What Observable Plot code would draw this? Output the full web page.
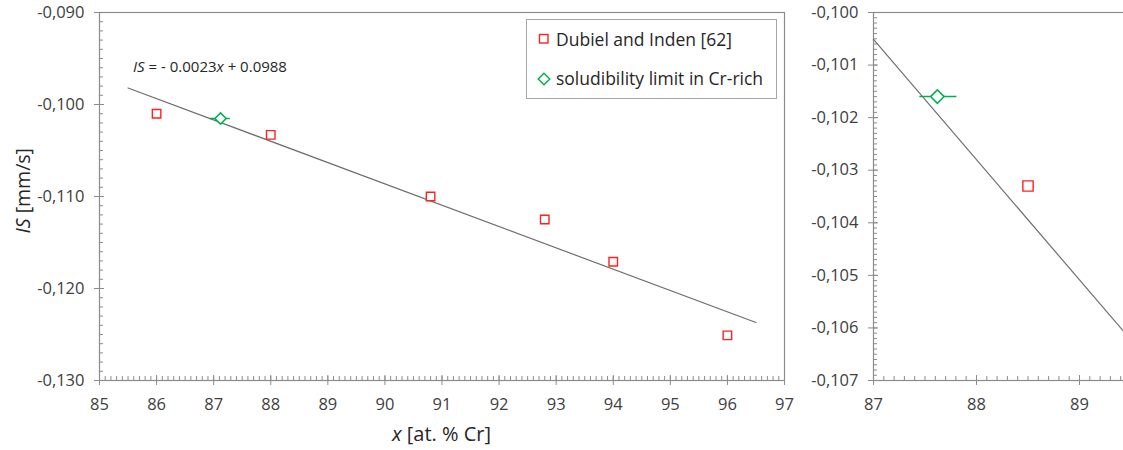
<!DOCTYPE html>
<html><head><meta charset="utf-8">
<script src="https://cdn.jsdelivr.net/npm/d3@7"></script>
<script src="https://cdn.jsdelivr.net/npm/@observablehq/plot@0.6"></script>
<style>
body{margin:0;background:#fff;font-family:"Open Sans",sans-serif;color:#262626;}
#wrap{position:relative;width:1123px;height:450px;overflow:hidden;background:#fff;}
#main{position:absolute;left:0;top:0;width:800px;}
#zoomPanel{position:absolute;left:800px;top:0;width:382px;height:450px;}
#main svg,#zoomPanel svg{max-width:none;}
.abs{position:absolute;white-space:nowrap;line-height:1;}
#legend{position:absolute;left:526px;top:19px;width:249px;height:78px;border:1px solid #a6a6a6;background:#fff;}
</style></head><body>
<div id="wrap">
  <div id="main"></div>
  <div id="zoomPanel"></div>
  <div class="abs" id="eq" style="left:133px;top:59px;font-size:15px;"></div>
  <div id="legend"></div>
  <div class="abs" id="xtitle" style="left:0;width:883px;text-align:center;top:424px;font-size:20px;"></div>
  <div class="abs" id="ytitle" style="left:-27px;top:181px;width:100px;text-align:center;font-size:19.5px;transform:rotate(-90deg);"></div>
</div>
<script>
// ---------- data: main panel ----------
const dubielX  = [86, 88, 90.8, 92.8, 94, 96];
const dubielIS = [-0.1010, -0.1033, -0.1100, -0.1125, -0.1171, -0.1251];
const limitX = [87.12];
const limitIS = [-0.10152];
const limitXLow = [86.94];
const limitXHigh = [87.29];
const fitX  = [85.5, 96.5];
const fitIS = [-0.0982, -0.1237];
const mainXTicks = [85, 86, 87, 88, 89, 90, 91, 92, 93, 94, 95, 96, 97];
const mainYTicks = [-0.130, -0.120, -0.110, -0.100, -0.090];
// ---------- data: zoom panel ----------
const zoomDubielX  = [88.5];
const zoomDubielIS = [-0.1033];
const zoomLimitX = [87.62];
const zoomLimitIS = [-0.1016];
const zoomLimitXLow = [87.45];
const zoomLimitXHigh = [87.81];
const zoomFitX  = [87, 89.43];
const zoomFitIS = [-0.10051, -0.10607];
const zoomXTicks = [87, 88, 89];
const zoomYTicks = [-0.107, -0.106, -0.105, -0.104, -0.103, -0.102, -0.101, -0.100];
// ---------- texts ----------
const legendLabels = ["Dubiel and Inden [62]", "soludibility limit in Cr-rich"];
const xTitle = ["x", " [at. % Cr]"];
const yTitle = ["IS", " [mm/s]"];
const equation = ["IS", " = - 0.0023", "x", " + 0.0988"];

const RED = "#ff2020", GREEN = "#00b050", AXIS = "#8c8c8c", LINE = "#6e6e6e", LABEL = "#404040";
const loc = d3.formatLocale({decimal: ",", thousands: ".", grouping: [3], currency: ["", ""], minus: "-"});
const fmtY = loc.format(".3f");

const zip = (xs, ys) => xs.map((x, i) => ({x, y: ys[i]}));
const minor = (a, b, step) => d3.range(Math.round((b - a) / step) + 1).map(i => a + i * step);

function panel({width, marginLeft, marginRight, xDomain, yDomain, xTicks, yTicks, xStep, yStep, sq, sqR, lim, limLo, limHi, fit}) {
  const [x0] = xDomain, [y0] = yDomain;
  const xMinor = minor(xDomain[0], xDomain[1], xStep);
  const yMinor = minor(yDomain[0], yDomain[1], yStep);
  const xMajorTicks = d3.range(Math.ceil(xDomain[0]), Math.floor(xDomain[1]) + 1);
  return Plot.plot({
    width, height: 450,
    marginLeft, marginRight, marginTop: 12, marginBottom: 70,
    x: {domain: xDomain},
    y: {domain: yDomain},
    style: {fontFamily: "Open Sans", fontSize: "16.5px", color: LABEL, background: "transparent", overflow: "visible", maxWidth: "none"},
    marks: [
      Plot.frame({stroke: AXIS, strokeWidth: 1.2}),
      Plot.ruleX(xMinor, {x: d => d, y1: () => y0, y2: () => y0, insetTop: -4, insetBottom: 0, stroke: AXIS}),
      Plot.ruleX(xMajorTicks, {x: d => d, y1: () => y0, y2: () => y0, insetTop: -5, insetBottom: -5, stroke: AXIS}),
      Plot.ruleY(yMinor, {y: d => d, x1: () => x0, x2: () => x0, insetLeft: 0, insetRight: -4, stroke: AXIS}),
      Plot.ruleY(yTicks, {y: d => d, x1: () => x0, x2: () => x0, insetLeft: -5, insetRight: -5, stroke: AXIS}),
      Plot.axisX({ticks: xTicks, tickSize: 0, tickPadding: 18, tickFormat: d => String(d), label: null}),
      Plot.axisY({ticks: yTicks, tickSize: 0, tickPadding: 15, tickFormat: fmtY, label: null}),
      Plot.line(fit, {x: "x", y: "y", stroke: LINE, strokeWidth: 1.2}),
      Plot.ruleY(lim, {y: "y", x1: (d, i) => limLo[i], x2: (d, i) => limHi[i], stroke: GREEN, strokeWidth: 1.5}),
      Plot.dot(lim, {x: "x", y: "y", symbol: "diamond2", r: sqR * 1.05, stroke: GREEN, strokeWidth: 1.5, fill: "white"}),
      Plot.dot(sq, {x: "x", y: "y", symbol: "square", r: sqR, stroke: RED, strokeWidth: 1.4, fill: "white"})
    ]
  });
}

document.getElementById("main").append(panel({
  width: 800, marginLeft: 99, marginRight: 16, xDomain: [85, 97], yDomain: [-0.130, -0.090],
  xTicks: mainXTicks, yTicks: mainYTicks, xStep: 0.1, yStep: 0.001,
  sq: zip(dubielX, dubielIS), sqR: 4.8, lim: zip(limitX, limitIS), limLo: limitXLow, limHi: limitXHigh,
  fit: zip(fitX, fitIS)
}));
document.getElementById("zoomPanel").append(panel({
  width: 382, marginLeft: 73, marginRight: 0, xDomain: [87, 90], yDomain: [-0.107, -0.100],
  xTicks: zoomXTicks, yTicks: zoomYTicks, xStep: 0.1, yStep: 0.0001,
  sq: zip(zoomDubielX, zoomDubielIS), sqR: 5.8, lim: zip(zoomLimitX, zoomLimitIS), limLo: zoomLimitXLow, limHi: zoomLimitXHigh,
  fit: zip(zoomFitX, zoomFitIS)
}));

document.getElementById("eq").innerHTML = `<i>${equation[0]}</i>${equation[1]}<i>${equation[2]}</i>${equation[3]}`;
document.getElementById("xtitle").innerHTML = `<i>${xTitle[0]}</i>${xTitle[1]}`;
document.getElementById("ytitle").innerHTML = `<i>${yTitle[0]}</i>${yTitle[1]}`;

const legend = document.getElementById("legend");
legend.innerHTML = `
<svg class="abs" style="left:11px;top:13px" width="12" height="12"><rect x="1.5" y="1.5" width="8.5" height="8.5" fill="white" stroke="${RED}" stroke-width="1.4"/></svg>
<div class="abs" style="left:29px;top:10.5px;font-size:17.5px">${legendLabels[0]}</div>
<svg class="abs" style="left:10px;top:52px" width="14" height="14"><path d="M7,1.2L12.8,7L7,12.8L1.2,7Z" fill="white" stroke="${GREEN}" stroke-width="1.4"/></svg>
<div class="abs" style="left:29px;top:49.5px;font-size:17.5px">${legendLabels[1]}</div>`;
</script>
</body></html>
